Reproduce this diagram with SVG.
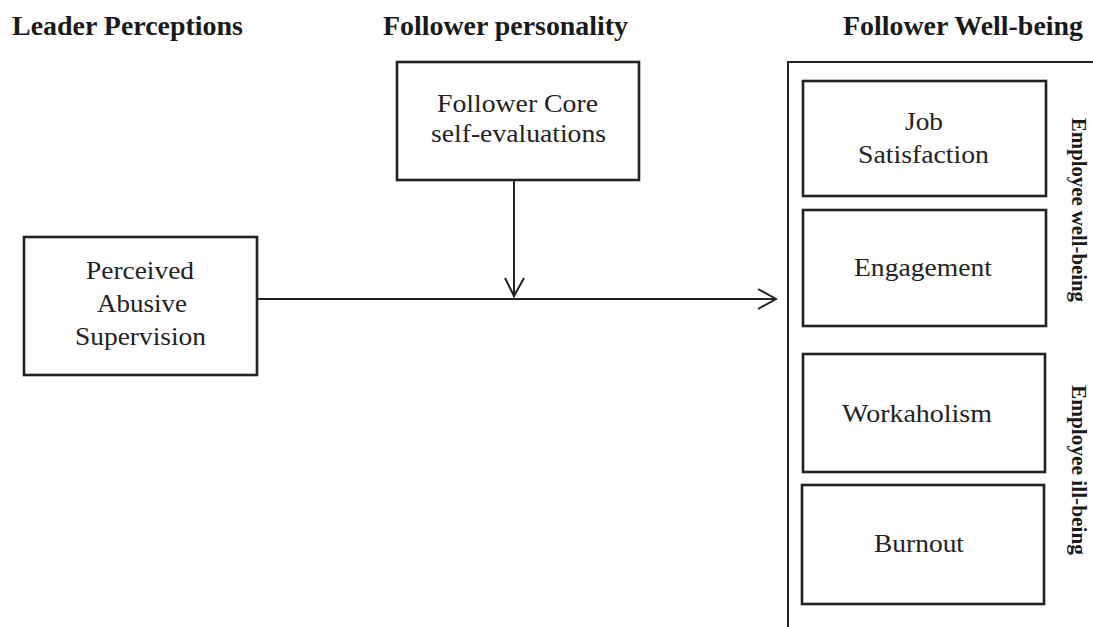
<svg xmlns="http://www.w3.org/2000/svg" width="1093" height="627" viewBox="0 0 1093 627">
  <style>
    .box { fill: #ffffff; stroke: #222; stroke-width: 2.6; }
    .line { fill: none; stroke: #222; stroke-width: 2; }
    .title { font-family: "Liberation Serif", serif; font-weight: bold; font-size: 27px; fill: #1a1a1a; }
    .lbl { font-family: "Liberation Serif", serif; font-size: 26px; fill: #222; text-anchor: middle; }
    .side { font-family: "Liberation Serif", serif; font-weight: bold; font-size: 21px; fill: #1a1a1a; text-anchor: middle; }
  </style>
  <rect width="1093" height="627" fill="#ffffff"/>

  <!-- column headings -->
  <g id="headings">
    <text class="title" x="12" y="35" textLength="231" lengthAdjust="spacingAndGlyphs">Leader Perceptions</text>
    <text class="title" x="383" y="35" textLength="245" lengthAdjust="spacingAndGlyphs">Follower personality</text>
    <text class="title" x="843" y="35" textLength="240" lengthAdjust="spacingAndGlyphs">Follower Well-being</text>
  </g>

  <!-- outcome bracket -->
  <g id="wellbeing-frame">
    <path class="line" d="M1093,62 H788 V627"/>
  </g>

  <g id="abusive-supervision">
    <rect class="box" x="24" y="237" width="233" height="138"/>
    <text class="lbl" x="140" y="279" textLength="108" lengthAdjust="spacingAndGlyphs">Perceived</text>
    <text class="lbl" x="142" y="312" textLength="90" lengthAdjust="spacingAndGlyphs">Abusive</text>
    <text class="lbl" x="140.5" y="345" textLength="131" lengthAdjust="spacingAndGlyphs">Supervision</text>
  </g>

  <g id="core-self-evaluations">
    <rect class="box" x="397" y="62" width="242" height="118"/>
    <text class="lbl" x="517.5" y="112" textLength="161" lengthAdjust="spacingAndGlyphs">Follower Core</text>
    <text class="lbl" x="518.5" y="142" textLength="175" lengthAdjust="spacingAndGlyphs">self-evaluations</text>
  </g>

  <g id="job-satisfaction">
    <rect class="box" x="803" y="81" width="243" height="115"/>
    <text class="lbl" x="924" y="130" textLength="38" lengthAdjust="spacingAndGlyphs">Job</text>
    <text class="lbl" x="923.5" y="163" textLength="131" lengthAdjust="spacingAndGlyphs">Satisfaction</text>
  </g>

  <g id="engagement">
    <rect class="box" x="803" y="210" width="243" height="116"/>
    <text class="lbl" x="923" y="276" textLength="138" lengthAdjust="spacingAndGlyphs">Engagement</text>
  </g>

  <g id="workaholism">
    <rect class="box" x="803" y="354" width="242" height="118"/>
    <text class="lbl" x="917" y="422" textLength="150" lengthAdjust="spacingAndGlyphs">Workaholism</text>
  </g>

  <g id="burnout">
    <rect class="box" x="802" y="485" width="242" height="119"/>
    <text class="lbl" x="919" y="552" textLength="90" lengthAdjust="spacingAndGlyphs">Burnout</text>
  </g>

  <g id="group-labels">
    <text class="side" transform="translate(1072,210) rotate(90)" textLength="184" lengthAdjust="spacingAndGlyphs">Employee well-being</text>
    <text class="side" transform="translate(1072,470) rotate(90)" textLength="170" lengthAdjust="spacingAndGlyphs">Employee ill-being</text>
  </g>

  <!-- connectors -->
  <g id="connectors">
    <path class="line" d="M257,299 H776"/>
    <path class="line" d="M758,289 L776,299 L758,309"/>
    <path class="line" d="M514,180 V297"/>
    <path class="line" d="M505,278 L514,296 L524,278"/>
  </g>
</svg>
